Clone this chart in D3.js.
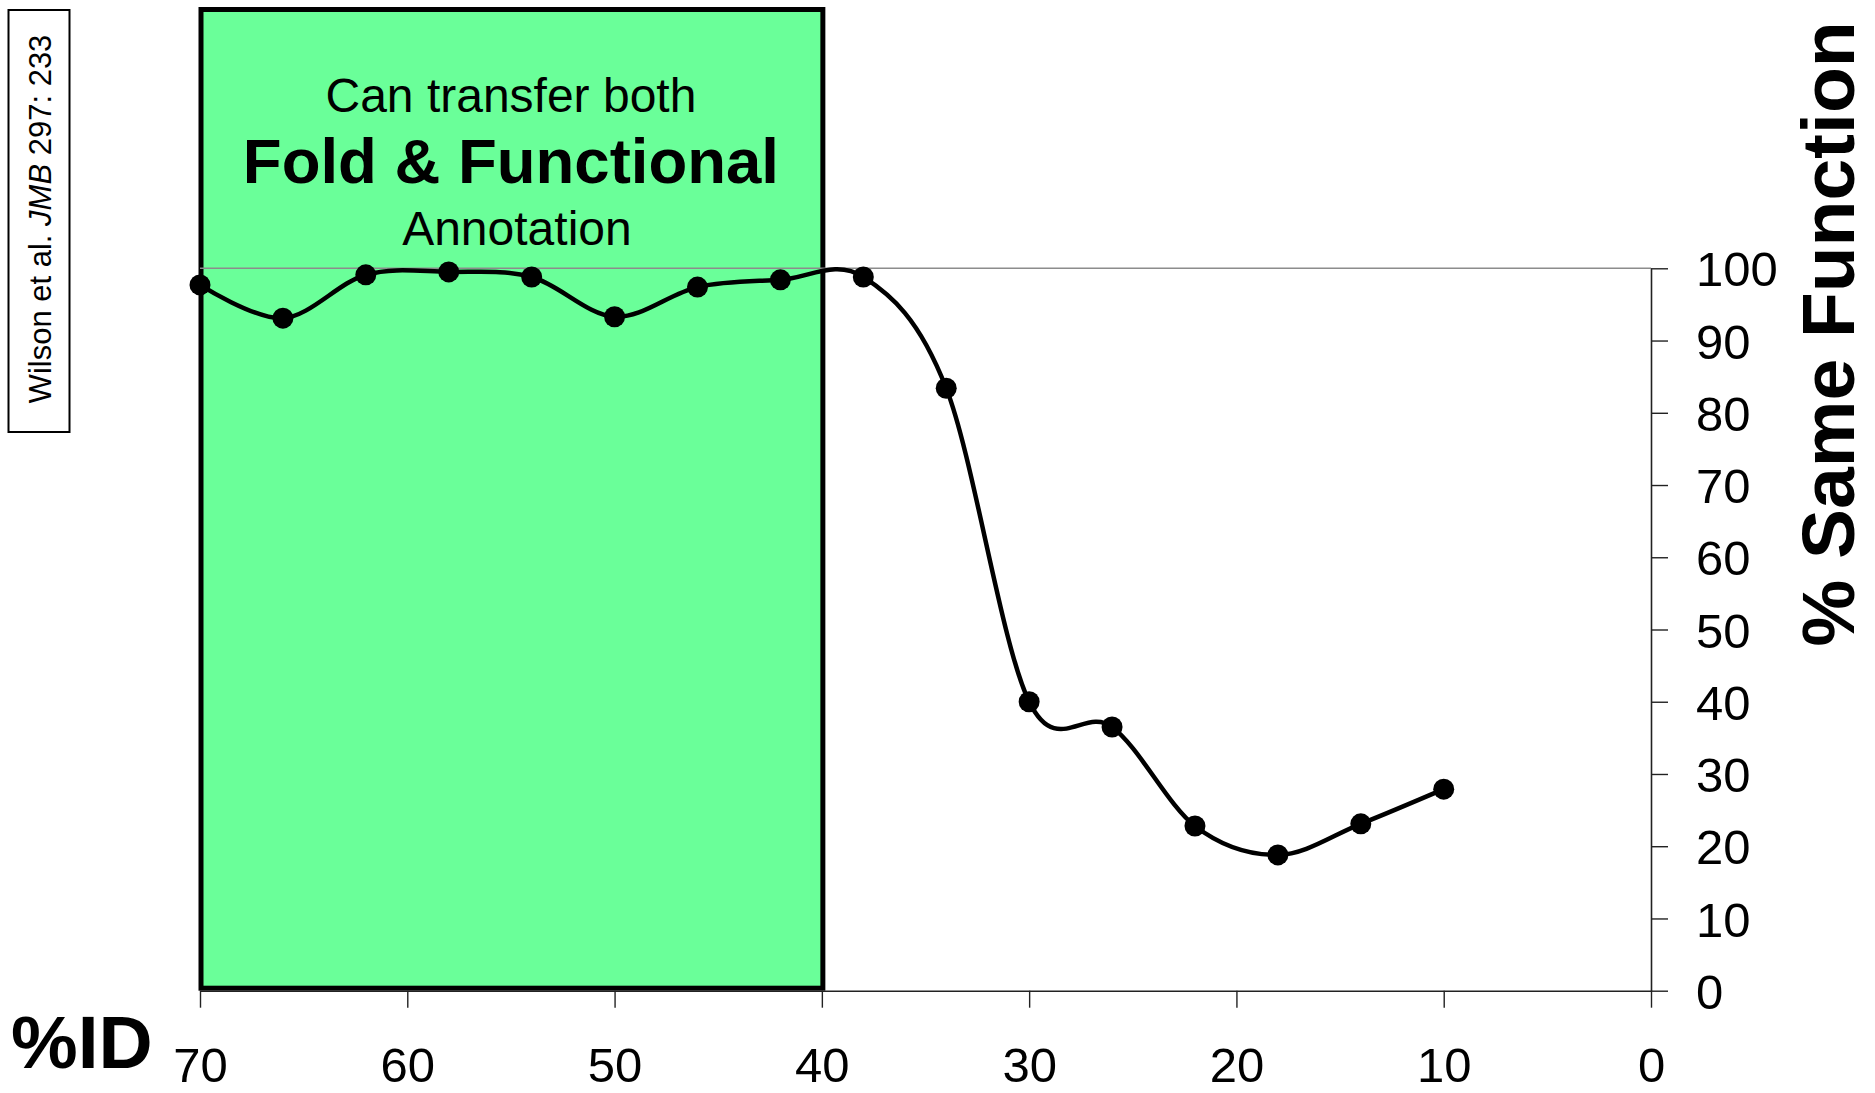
<!DOCTYPE html>
<html>
<head>
<meta charset="utf-8">
<script src="https://cdn.jsdelivr.net/npm/d3@7"></script>
<style>
  html, body { margin: 0; padding: 0; background: #fff; }
  svg { display: block; }
  text { font-family: "Liberation Sans", Arial, Helvetica, sans-serif; }
</style>
</head>
<body>
<svg id="chart" width="1875" height="1093"></svg>
<script>
// ---- data ----
const identity = [70, 66, 62, 58, 54, 50, 46, 42, 38, 34, 30, 26, 22, 18, 14, 10];
const sameFunction = [97.7, 93.1, 99.1, 99.5, 98.8, 93.3, 97.4, 98.4, 98.8, 83.4, 40.0, 36.5, 22.8, 18.8, 23.1, 27.9];
const xTicks = [70, 60, 50, 40, 30, 20, 10, 0];
const yTicks = [0, 10, 20, 30, 40, 50, 60, 70, 80, 90, 100];
const regionRange = [70, 40];
const regionLines = ["Can transfer both", "Fold & Functional", "Annotation"];
const xTitle = "%ID";
const yTitle = "% Same Function";

// ---- layout ----
const svg = d3.select("#chart");
const x = d3.scaleLinear().domain([70, 0]).range([200, 1651]);
const y = d3.scaleLinear().domain([0, 100]).range([990.7, 268.3]);

// green region box
const boxTop = 9.5;
svg.append("rect")
  .attr("x", x(regionRange[0]) + 1)
  .attr("y", boxTop)
  .attr("width", x(regionRange[1]) - x(regionRange[0]))
  .attr("height", y(0) - 2.5 - boxTop)
  .attr("fill", "#6aff99")
  .attr("stroke", "#000")
  .attr("stroke-width", 5);

// top line at 100
svg.append("line")
  .attr("x1", x(70)).attr("x2", x(0))
  .attr("y1", y(100)).attr("y2", y(100))
  .attr("stroke", "#8c8c8c").attr("stroke-width", 1.6);

// x axis
const xAxis = svg.append("g")
  .attr("transform", `translate(0,${y(0)})`)
  .call(d3.axisBottom(x).tickValues(xTicks).tickSize(17).tickSizeOuter(0).tickFormat(d3.format("d")));
xAxis.select(".domain").attr("stroke", "#222").attr("stroke-width", 1.6);
xAxis.selectAll(".tick line").attr("stroke", "#222").attr("stroke-width", 1.4);
xAxis.selectAll(".tick text")
  .attr("y", 91).attr("dy", 0)
  .attr("fill", "#000")
  .style("font-size", "49px")
  .style("font-family", "'Liberation Sans', Arial, sans-serif");

// y axis (right)
const yAxis = svg.append("g")
  .attr("transform", `translate(${x(0)},0)`)
  .call(d3.axisRight(y).tickValues(yTicks).tickSize(17).tickSizeOuter(0).tickFormat(d3.format("d")));
yAxis.select(".domain").attr("stroke", "#222").attr("stroke-width", 1.6);
yAxis.selectAll(".tick line").attr("stroke", "#222").attr("stroke-width", 1.4);
yAxis.selectAll(".tick text")
  .attr("x", 45).attr("dy", "0.36em")
  .attr("text-anchor", "start")
  .attr("fill", "#000")
  .style("font-size", "49px")
  .style("font-family", "'Liberation Sans', Arial, sans-serif");

// smoothed line
const pts = identity.map((d, i) => [d, sameFunction[i]]);
svg.append("path")
  .datum(pts)
  .attr("fill", "none")
  .attr("stroke", "#000")
  .attr("stroke-width", 4.5)
  .attr("stroke-linejoin", "round")
  .attr("d", d3.line().x(d => x(d[0])).y(d => y(d[1])).curve(d3.curveCardinal.tension(0)));

svg.selectAll("circle.pt")
  .data(pts)
  .join("circle")
  .attr("class", "pt")
  .attr("cx", d => x(d[0]))
  .attr("cy", d => y(d[1]))
  .attr("r", 10.5)
  .attr("fill", "#000");

// region text
const cx = (x(regionRange[0]) + x(regionRange[1])) / 2;
svg.append("text").attr("x", cx).attr("y", 112).attr("text-anchor", "middle")
  .style("font-size", "48px").text(regionLines[0]);
svg.append("text").attr("x", cx).attr("y", 183).attr("text-anchor", "middle")
  .style("font-size", "63.5px").style("font-weight", "bold").text(regionLines[1]);
svg.append("text").attr("x", cx + 6).attr("y", 245).attr("text-anchor", "middle")
  .style("font-size", "48px").text(regionLines[2]);

// axis titles
svg.append("text").attr("x", 11).attr("y", 1068)
  .style("font-size", "75px").style("font-weight", "bold").text(xTitle);
svg.append("text")
  .attr("transform", "translate(1854,334) rotate(-90)")
  .attr("text-anchor", "middle")
  .style("font-size", "75px").style("font-weight", "bold").text(yTitle);

// citation box
svg.append("rect")
  .attr("x", 8.5).attr("y", 10)
  .attr("width", 61).attr("height", 422)
  .attr("fill", "#fff").attr("stroke", "#000").attr("stroke-width", 2);
const cite = svg.append("text")
  .attr("transform", "translate(51,219) rotate(-90)")
  .attr("text-anchor", "middle")
  .style("font-size", "31px");
cite.append("tspan").text("Wilson et al. ");
cite.append("tspan").style("font-style", "italic").text("JMB");
cite.append("tspan").text(" 297: 233");
</script>
</body>
</html>
